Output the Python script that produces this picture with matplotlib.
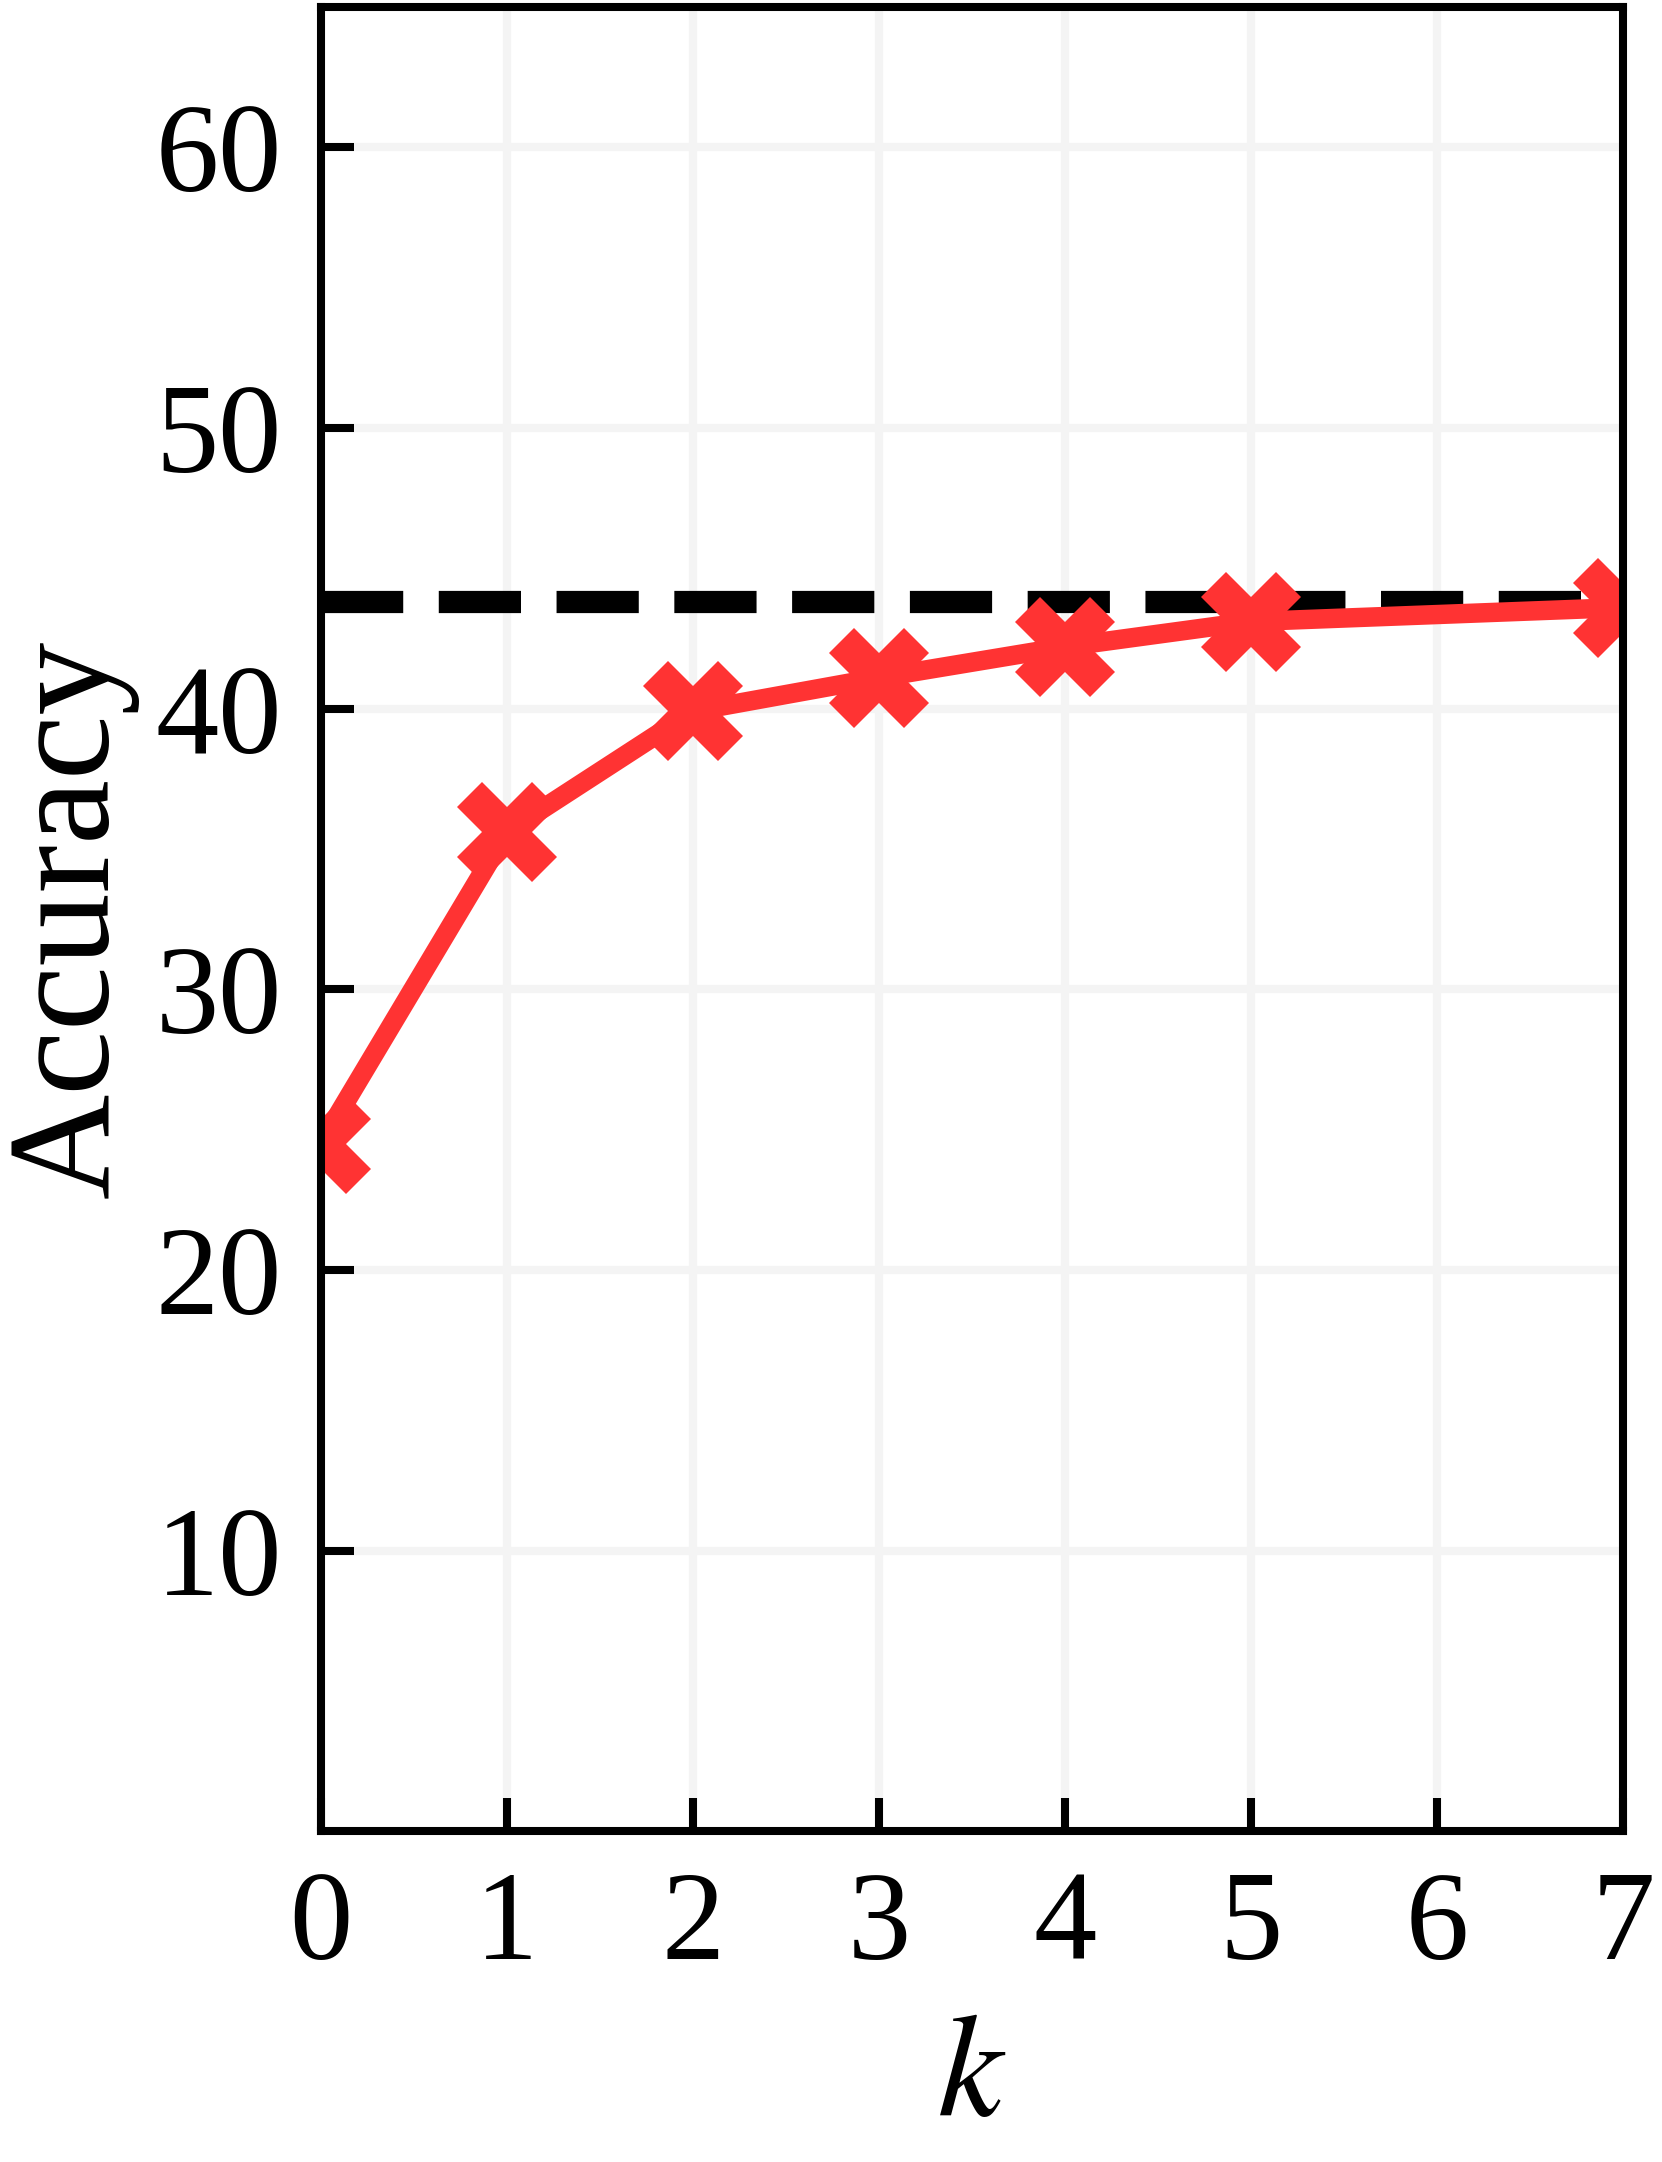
import matplotlib
matplotlib.use("Agg")
import matplotlib.pyplot as plt

# data
k_values = [0, 1, 2, 3, 4, 5, 7]
accuracy = [24.5, 35.6, 39.9, 41.1, 42.2, 43.1, 43.6]
baseline = 43.8
x_ticks = [0, 1, 2, 3, 4, 5, 6, 7]
y_ticks = [10, 20, 30, 40, 50, 60]

# Times-like look; STIX ships with matplotlib so it is always there
plt.rcParams['font.family'] = ['Times New Roman', 'Liberation Serif', 'Tinos',
                               'STIXGeneral', 'DejaVu Serif']
plt.rcParams['mathtext.fontset'] = 'stix'

fig = plt.figure(figsize=(16.62, 21.62), dpi=100)
ax = fig.add_axes([0.193, 0.153, 0.7835, 0.8438])

ax.axhline(baseline, color='black', lw=16, ls='--', zorder=2)
ax.plot(k_values, accuracy, color='#FF3333', lw=14, marker='X', ms=72,
        mew=0, zorder=3)

ax.set_xlim(0, 7)
ax.set_ylim(0, 65)
ax.set_xticks(x_ticks)
ax.set_yticks(y_ticks)
ax.grid(True, color='#f4f4f4', lw=6, zorder=0)

for s in ax.spines.values():
    s.set_linewidth(5.8)
    s.set_zorder(5)
ax.tick_params(direction='in', length=24, width=5.8, labelsize=91, pad=28)

ax.set_ylabel('Accuracy', fontsize=105)
ax.set_xlabel('$k$', fontsize=105)
ax.yaxis.set_label_coords(-0.14, 0.5)
ax.xaxis.set_label_coords(0.5, -0.1)

fig.savefig('out.png', dpi=100)
